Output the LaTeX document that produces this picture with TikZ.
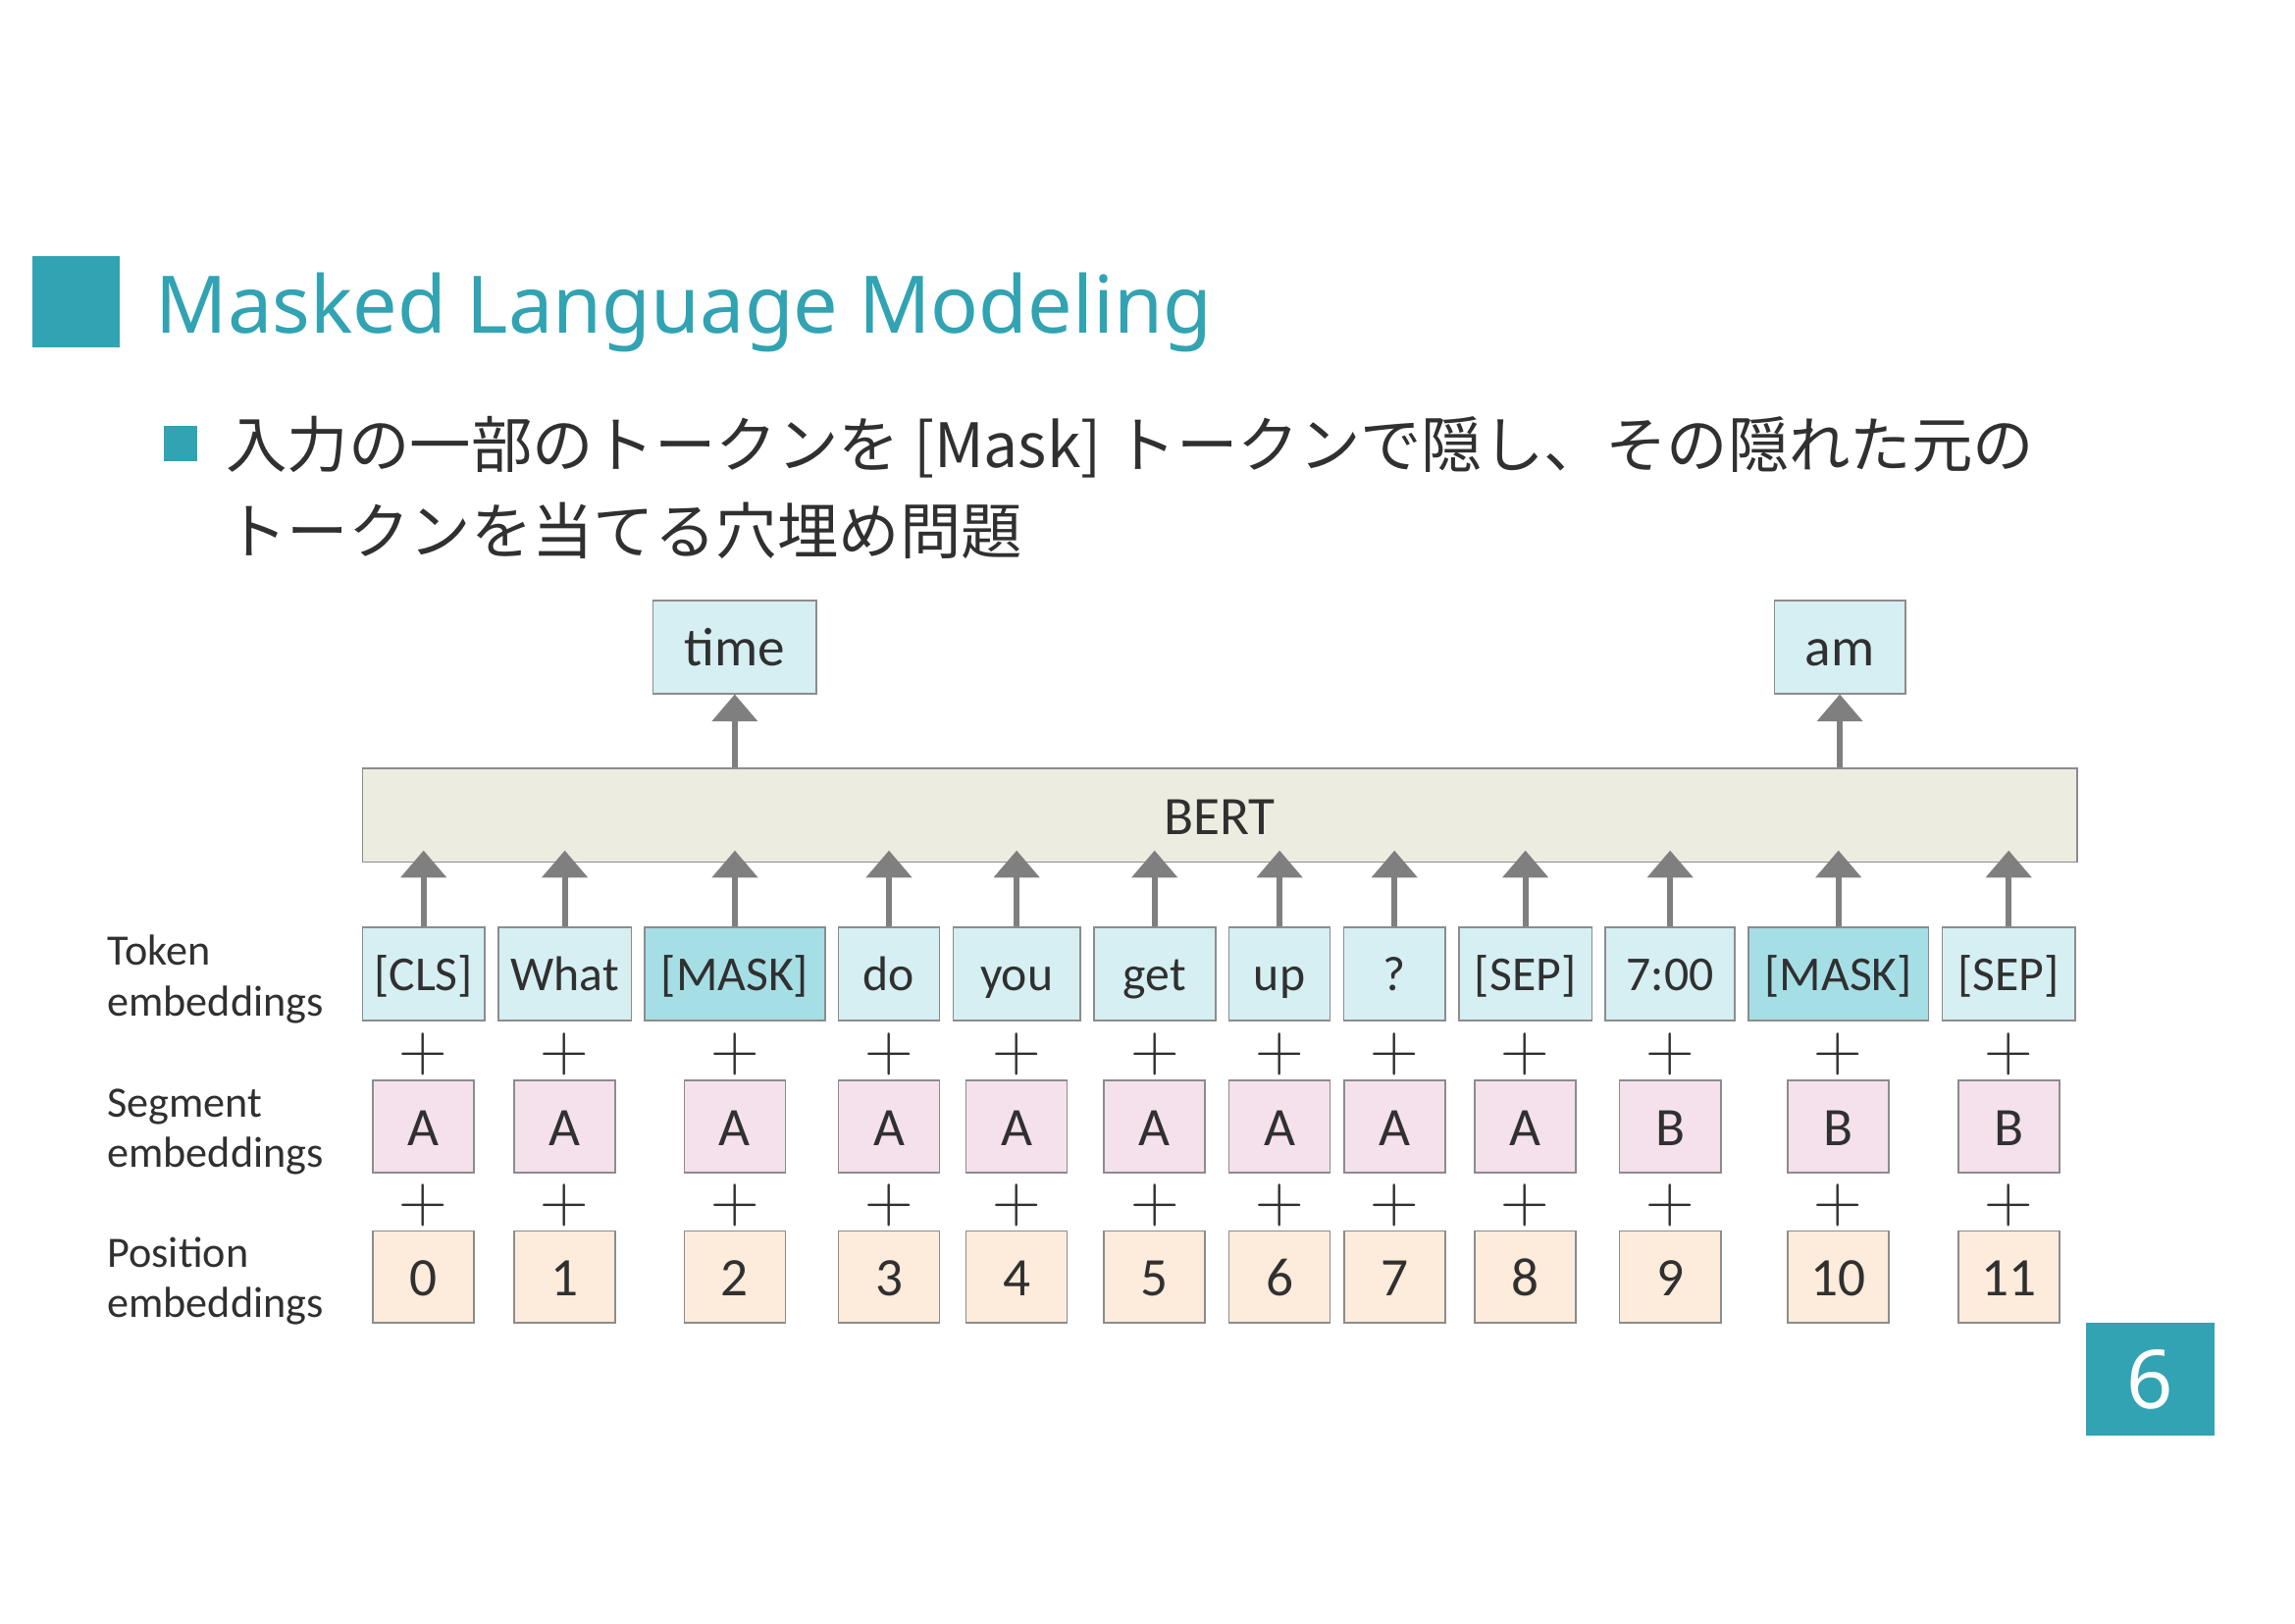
\documentclass[tikz,border=0pt]{standalone}
\usepackage{fontspec}
\setmainfont{Carlito}
\newfontfamily\titlefont{Noto Sans}
\newfontfamily\jpfont{Noto Sans CJK JP}
\usepackage{tikz}
\usetikzlibrary{shapes,arrows,arrows.meta,positioning}
\definecolor{Teal}{RGB}{49,163,179}
\definecolor{TokFill}{RGB}{213,239,243}
\definecolor{MaskFill}{RGB}{166,222,230}
\definecolor{SegFill}{RGB}{244,225,236}
\definecolor{PosFill}{RGB}{253,235,219}
\definecolor{BertFill}{RGB}{237,236,225}
\definecolor{BoxLine}{RGB}{140,140,140}
\definecolor{ArrowGray}{RGB}{127,127,127}
\definecolor{TextDark}{RGB}{48,48,48}
\tikzstyle{Token} = [draw=BoxLine, line width=0.6pt, fill=TokFill, rectangle, minimum height=34.3pt, inner sep=0pt, text=TextDark, font=\fontsize{18}{18}\selectfont, text height=12.2pt, text depth=0pt]
\tikzstyle{Masked} = [Token, fill=MaskFill]
\tikzstyle{Output} = [Token, minimum height=34.3pt, font=\fontsize{20}{20}\selectfont, text height=13.6pt]
\tikzstyle{Model} = [draw=BoxLine, line width=0.6pt, fill=BertFill, rectangle, minimum width=632.5pt, minimum height=34.5pt, inner sep=0pt, text=TextDark, font=\fontsize{20}{20}\selectfont, text height=14.4pt, text depth=0pt]
\tikzstyle{Segment} = [draw=BoxLine, line width=0.6pt, fill=SegFill, rectangle, minimum width=37.3pt, minimum height=34pt, inner sep=0pt, text=TextDark, font=\fontsize{20}{20}\selectfont, text height=14pt, text depth=0pt]
\tikzstyle{Position} = [Segment, fill=PosFill]
\tikzstyle{Plus} = [inner sep=0pt, text=TextDark, font=\fontsize{23}{23}\selectfont, yshift=-1.4pt]
\tikzstyle{Label} = [anchor=west, align=left, inner sep=0pt, text=TextDark, font=\fontsize{16}{18.5}\selectfont]
\tikzstyle{Up} = [draw=ArrowGray, line width=2.2pt, -{Triangle[width=16.5pt,length=10pt]}]
\tikzstyle{Into} = [Up, shorten >=-4.6pt]
\tikzstyle{PageNo} = [fill=Teal, rectangle, minimum width=47.5pt, minimum height=41.6pt, inner sep=0pt, text=white, font=\titlefont\fontsize{30}{30}\selectfont, text height=21.4pt, text depth=0pt]

\begin{document}
\begin{tikzpicture}[x=0.54pt,y=-0.54pt]
    \useasboundingbox (0,0) rectangle (1568,1108.8);
    % heading
    \fill[Teal] (22,175) rectangle (82,237);
    \node[anchor=base west, inner sep=0pt, text=Teal, font=\titlefont\fontsize{29.3}{36}\selectfont] (title) at (106,227.5) {Masked Language Modeling};
    \fill[Teal] (112,291) rectangle (135,315);
    \node[anchor=north west, inner sep=0pt, align=left, text=TextDark, font=\jpfont\fontsize{22.6}{32}\selectfont] (bullet) at (154,284) {入力の一部のトークンを [Mask] トークンで隠し、その隠れた元の\\トークンを当てる穴埋め問題};
    % token row
    \node[Token, minimum width=45.1pt]  (tok_cls)             at (289.4,665.4)     {[CLS]};
    \node[Token, minimum width=49.1pt]  (tok_what)  [right=4.4pt of tok_cls]   {What};
    \node[Masked, minimum width=66.4pt] (tok_mask1) [right=4.4pt of tok_what]  {[MASK]};
    \node[Token, minimum width=37.3pt]  (tok_do)    [right=4.4pt of tok_mask1] {do};
    \node[Token, minimum width=46.9pt]  (tok_you)   [right=4.4pt of tok_do]    {you};
    \node[Token, minimum width=44.9pt]  (tok_get)   [right=4.4pt of tok_you]   {get};
    \node[Token, minimum width=37.3pt]  (tok_up)    [right=4.4pt of tok_get]   {up};
    \node[Token, minimum width=37.5pt]  (tok_q)     [right=4.4pt of tok_up]    {?};
    \node[Token, minimum width=49.1pt]  (tok_sep1)  [right=4.4pt of tok_q]     {[SEP]};
    \node[Token, minimum width=47.7pt]  (tok_time)  [right=4.4pt of tok_sep1]  {7:00};
    \node[Masked, minimum width=66.5pt] (tok_mask2) [right=4.4pt of tok_time]  {[MASK]};
    \node[Token, minimum width=49.1pt]  (tok_sep2)  [right=4.4pt of tok_mask2] {[SEP]};
    % model and predictions
    \node[Model] (bert) at (833.3,557) {BERT};
    \node[Output, minimum width=60.3pt] (o_time) at (502,442)  {time};
    \node[Output, minimum width=48.3pt] (o_am)   at (1257,442) {am};
    % segment row
    \node[Segment] (seg_0)  [below=21.6pt of tok_cls]   {A};
    \node[Segment] (seg_1)  [below=21.6pt of tok_what]  {A};
    \node[Segment] (seg_2)  [below=21.6pt of tok_mask1] {A};
    \node[Segment] (seg_3)  [below=21.6pt of tok_do]    {A};
    \node[Segment] (seg_4)  [below=21.6pt of tok_you]   {A};
    \node[Segment] (seg_5)  [below=21.6pt of tok_get]   {A};
    \node[Segment] (seg_6)  [below=21.6pt of tok_up]    {A};
    \node[Segment] (seg_7)  [below=21.6pt of tok_q]     {A};
    \node[Segment] (seg_8)  [below=21.6pt of tok_sep1]  {A};
    \node[Segment] (seg_9)  [below=21.6pt of tok_time]  {B};
    \node[Segment] (seg_10) [below=21.6pt of tok_mask2] {B};
    \node[Segment] (seg_11) [below=21.6pt of tok_sep2]  {B};
    % position row
    \node[Position] (pos_0)  [below=20.8pt of seg_0]  {0};
    \node[Position] (pos_1)  [below=20.8pt of seg_1]  {1};
    \node[Position] (pos_2)  [below=20.8pt of seg_2]  {2};
    \node[Position] (pos_3)  [below=20.8pt of seg_3]  {3};
    \node[Position] (pos_4)  [below=20.8pt of seg_4]  {4};
    \node[Position] (pos_5)  [below=20.8pt of seg_5]  {5};
    \node[Position] (pos_6)  [below=20.8pt of seg_6]  {6};
    \node[Position] (pos_7)  [below=20.8pt of seg_7]  {7};
    \node[Position] (pos_8)  [below=20.8pt of seg_8]  {8};
    \node[Position] (pos_9)  [below=20.8pt of seg_9]  {9};
    \node[Position] (pos_10) [below=20.8pt of seg_10] {10};
    \node[Position] (pos_11) [below=20.8pt of seg_11] {11};
    % row labels
    \node[Label] (l_token)    at (73,669)   {Token\\embeddings};
    \node[Label] (l_segment)  at (73,773.5) {Segment\\embeddings};
    \node[Label] (l_position) at (73,875)   {Position\\embeddings};
    % plus signs
    \path (tok_cls)   -- node[Plus] (plus_s0)  {$+$} (seg_0);
    \path (tok_what)  -- node[Plus] (plus_s1)  {$+$} (seg_1);
    \path (tok_mask1) -- node[Plus] (plus_s2)  {$+$} (seg_2);
    \path (tok_do)    -- node[Plus] (plus_s3)  {$+$} (seg_3);
    \path (tok_you)   -- node[Plus] (plus_s4)  {$+$} (seg_4);
    \path (tok_get)   -- node[Plus] (plus_s5)  {$+$} (seg_5);
    \path (tok_up)    -- node[Plus] (plus_s6)  {$+$} (seg_6);
    \path (tok_q)     -- node[Plus] (plus_s7)  {$+$} (seg_7);
    \path (tok_sep1)  -- node[Plus] (plus_s8)  {$+$} (seg_8);
    \path (tok_time)  -- node[Plus] (plus_s9)  {$+$} (seg_9);
    \path (tok_mask2) -- node[Plus] (plus_s10) {$+$} (seg_10);
    \path (tok_sep2)  -- node[Plus] (plus_s11) {$+$} (seg_11);
    \path (seg_0)  -- node[Plus] (plus_p0)  {$+$} (pos_0);
    \path (seg_1)  -- node[Plus] (plus_p1)  {$+$} (pos_1);
    \path (seg_2)  -- node[Plus] (plus_p2)  {$+$} (pos_2);
    \path (seg_3)  -- node[Plus] (plus_p3)  {$+$} (pos_3);
    \path (seg_4)  -- node[Plus] (plus_p4)  {$+$} (pos_4);
    \path (seg_5)  -- node[Plus] (plus_p5)  {$+$} (pos_5);
    \path (seg_6)  -- node[Plus] (plus_p6)  {$+$} (pos_6);
    \path (seg_7)  -- node[Plus] (plus_p7)  {$+$} (pos_7);
    \path (seg_8)  -- node[Plus] (plus_p8)  {$+$} (pos_8);
    \path (seg_9)  -- node[Plus] (plus_p9)  {$+$} (pos_9);
    \path (seg_10) -- node[Plus] (plus_p10) {$+$} (pos_10);
    \path (seg_11) -- node[Plus] (plus_p11) {$+$} (pos_11);
    % arrows into and out of the model
    \draw[Into] (tok_cls)   -- (tok_cls   |- bert.south);
    \draw[Into] (tok_what)  -- (tok_what  |- bert.south);
    \draw[Into] (tok_mask1) -- (tok_mask1 |- bert.south);
    \draw[Into] (tok_do)    -- (tok_do    |- bert.south);
    \draw[Into] (tok_you)   -- (tok_you   |- bert.south);
    \draw[Into] (tok_get)   -- (tok_get   |- bert.south);
    \draw[Into] (tok_up)    -- (tok_up    |- bert.south);
    \draw[Into] (tok_q)     -- (tok_q     |- bert.south);
    \draw[Into] (tok_sep1)  -- (tok_sep1  |- bert.south);
    \draw[Into] (tok_time)  -- (tok_time  |- bert.south);
    \draw[Into] (tok_mask2) -- (tok_mask2 |- bert.south);
    \draw[Into] (tok_sep2)  -- (tok_sep2  |- bert.south);
    \draw[Up] (o_time |- bert.north) -- (o_time);
    \draw[Up] (o_am   |- bert.north) -- (o_am);
    % slide number
    \node[PageNo] (page) at (1469,942.5) {6};
\end{tikzpicture}
\end{document}
